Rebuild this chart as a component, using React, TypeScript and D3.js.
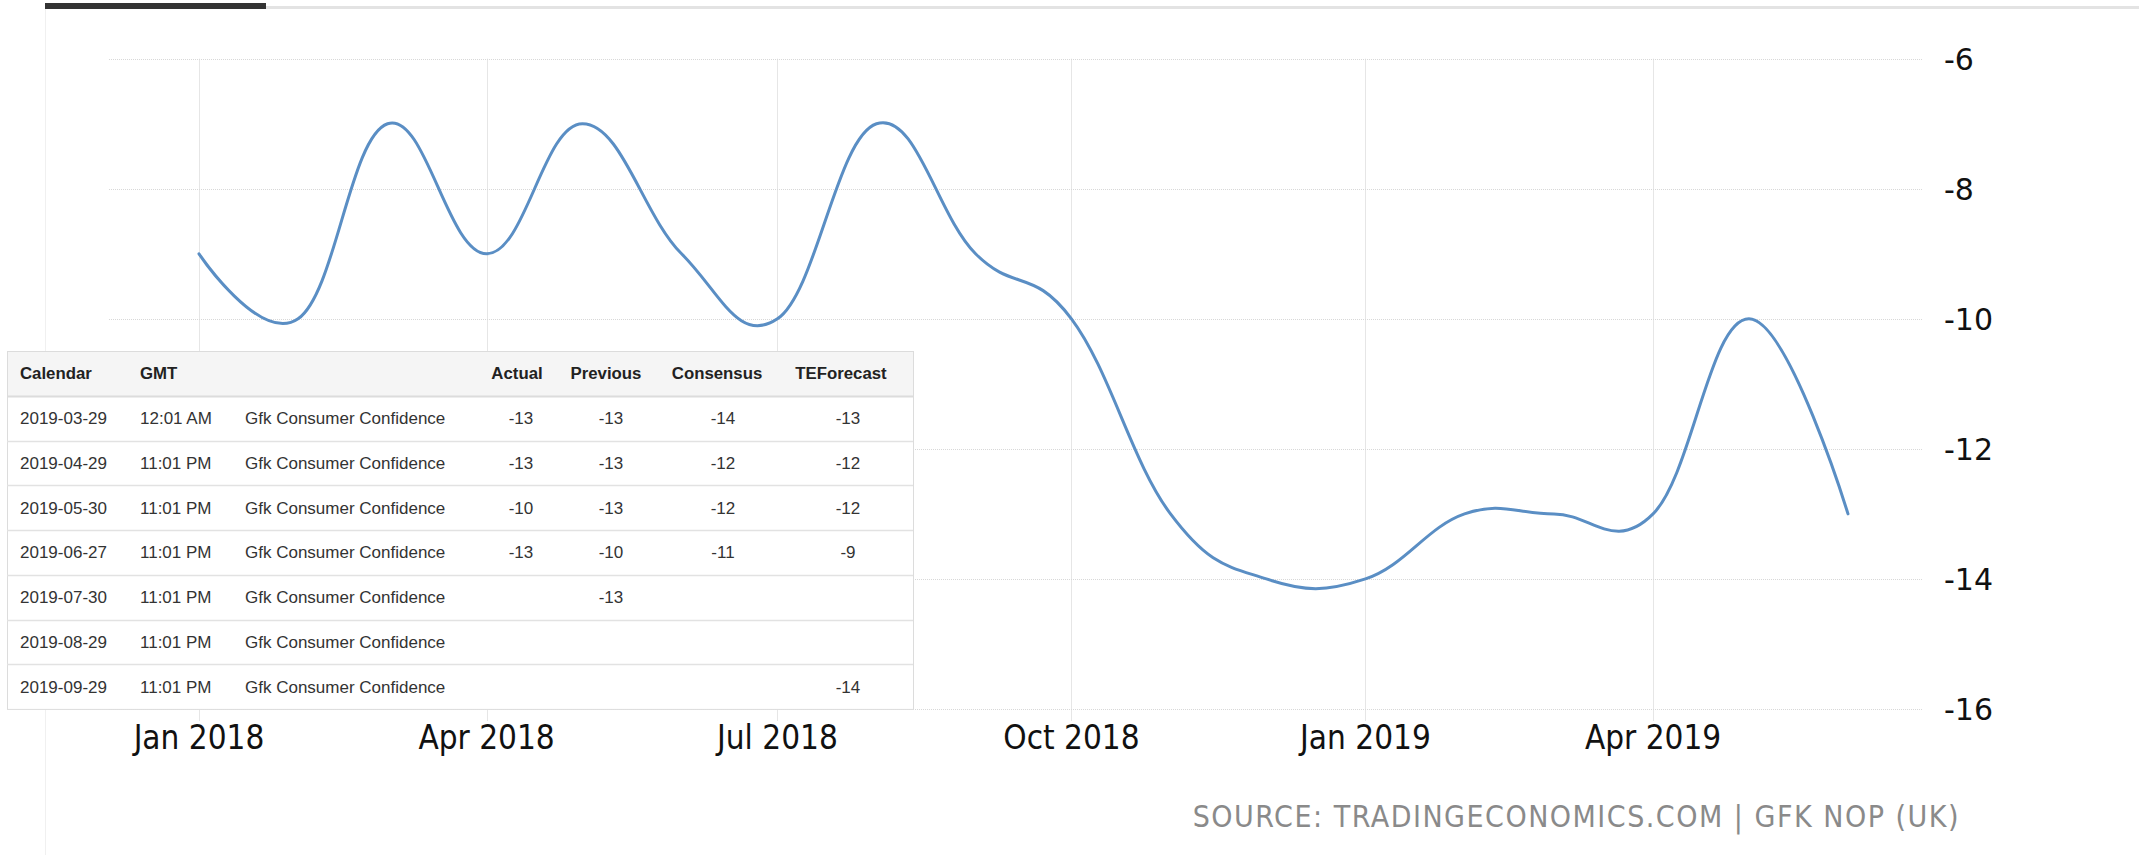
import React from "react";
import * as d3 from "d3";

const months = [
  "2018-01", "2018-02", "2018-03", "2018-04", "2018-05", "2018-06",
  "2018-07", "2018-08", "2018-09", "2018-10", "2018-11", "2018-12",
  "2019-01", "2019-02", "2019-03", "2019-04", "2019-05", "2019-06",
];
const values = [-9, -10, -7, -9, -7, -9, -10, -7, -9, -10, -13, -14, -14, -13, -13, -13, -10, -13];

const yTicks = [-6, -8, -10, -12, -14, -16];
const xTickMonths = ["2018-01", "2018-04", "2018-07", "2018-10", "2019-01", "2019-04"];

const tableHeaders = ["Calendar", "GMT", "", "Actual", "Previous", "Consensus", "TEForecast"];
const tableDates = ["2019-03-29", "2019-04-29", "2019-05-30", "2019-06-27", "2019-07-30", "2019-08-29", "2019-09-29"];
const tableTimes = ["12:01 AM", "11:01 PM", "11:01 PM", "11:01 PM", "11:01 PM", "11:01 PM", "11:01 PM"];
const tableEvent = "Gfk Consumer Confidence";
const tableActual = ["-13", "-13", "-10", "-13", "", "", ""];
const tablePrevious = ["-13", "-13", "-13", "-10", "-13", "", ""];
const tableConsensus = ["-14", "-12", "-12", "-11", "", "", ""];
const tableForecast = ["-13", "-12", "-12", "-9", "", "", "-14"];

const sourceText = "SOURCE: TRADINGECONOMICS.COM | GFK NOP (UK)";

const parse = d3.timeParse("%Y-%m");

export default function App() {
  const W = 2139, H = 855;
  const dates = months.map((m) => parse(m) as Date);
  const x = d3.scaleTime().domain([dates[0], dates[dates.length - 1]]).range([199, 1848]);
  const y = d3.scaleLinear().domain([-16, -6]).range([709, 58.7]);
  const line = d3
    .line<number>()
    .x((_, i) => x(dates[i]))
    .y((v) => y(v))
    .curve(d3.curveCardinal.tension(-0.2));
  const fmt = d3.timeFormat("%b %Y");
  const xTicks = xTickMonths.map((m) => parse(m) as Date);

  // table layout
  const tX0 = 7, tX1 = 913, tY0 = 351, headH = 45, rowH = 44.7;
  const colX = [20, 140, 245];
  const colC = [521, 611, 723, 848];
  const headC = [517, 606, 717, 841];
  const cols = [tableActual, tablePrevious, tableConsensus, tableForecast];
  const tY1 = tY0 + headH + rowH * tableDates.length;
  const tf = "'Liberation Sans', Arial, sans-serif";

  return (
    <div style={{ position: "absolute", left: 0, top: 0 }}>
      <svg width={W} height={H} style={{ display: "block", background: "#fff" }}>
        {/* top tabs */}
        <rect x={266} y={6} width={W - 266} height={3} fill="#e3e3e3" />
        <rect x={45} y={3} width={221} height={6} fill="#333" />
        <line x1={45.5} y1={9} x2={45.5} y2={H} stroke="#f0f0f0" strokeWidth={1} />

        {/* vertical grid */}
        {xTicks.map((d, i) => (
          <line key={"vg" + i} x1={Math.round(x(d)) + 0.5} x2={Math.round(x(d)) + 0.5} y1={y(-6)} y2={y(-16) + 12} stroke="#e6e6e6" strokeWidth={1} />
        ))}
        {/* horizontal grid */}
        {yTicks.map((t) => (
          <line key={"hg" + t} x1={109} x2={1923} y1={Math.round(y(t)) + 0.5} y2={Math.round(y(t)) + 0.5} stroke="#d8d8d8" strokeWidth={1} strokeDasharray="1,1" />
        ))}
        {/* y labels */}
        {yTicks.map((t) => (
          <text key={"yl" + t} x={1944} y={y(t)} dy="0.36em" fontFamily="'DejaVu Sans', Verdana, sans-serif" fontSize={30} fill="#111">
            {String(t)}
          </text>
        ))}
        {/* x labels */}
        {xTicks.map((d, i) => (
          <text key={"xl" + i} x={x(d)} y={749} textAnchor="middle" fontFamily="'DejaVu Sans Condensed', 'DejaVu Sans', sans-serif" fontStretch="condensed" fontSize={33} fill="#111">
            {fmt(d)}
          </text>
        ))}

        {/* series */}
        <path d={line(values) || ""} fill="none" stroke="#5a8ec4" strokeWidth={3} strokeLinejoin="round" strokeLinecap="round" />

        {/* table */}
        <rect x={tX0 + 0.5} y={tY0 + 0.5} width={tX1 - tX0} height={tY1 - tY0} fill="#fff" stroke="#dcdcdc" />
        <rect x={tX0 + 1} y={tY0 + 1} width={tX1 - tX0 - 1} height={headH - 1} fill="#f5f5f5" />
        <line x1={tX0} x2={tX1} y1={tY0 + headH + 0.5} y2={tY0 + headH + 0.5} stroke="#dcdcdc" strokeWidth={2} />
        {tableDates.map((_, i) =>
          i > 0 ? (
            <line key={"rl" + i} x1={tX0} x2={tX1} y1={Math.round(tY0 + headH + rowH * i) + 0.5} y2={Math.round(tY0 + headH + rowH * i) + 0.5} stroke="#e2e2e2" strokeWidth={1.5} />
          ) : null
        )}
        {tableHeaders.map((h, i) =>
          h ? (
            <text key={"th" + i} x={i < 3 ? colX[i] : headC[i - 3]} y={tY0 + headH / 2} dy="0.35em" textAnchor={i < 3 ? "start" : "middle"} fontFamily={tf} fontWeight="bold" fontSize={16.8} fill="#222">
              {h}
            </text>
          ) : null
        )}
        {tableDates.map((dt, i) => {
          const cy = tY0 + headH + rowH * i + rowH / 2;
          return (
            <g key={"row" + i} fontFamily={tf} fontSize={17} fill="#333">
              <text x={colX[0]} y={cy} dy="0.35em">{dt}</text>
              <text x={colX[1]} y={cy} dy="0.35em">{tableTimes[i]}</text>
              <text x={colX[2]} y={cy} dy="0.35em">{tableEvent}</text>
              {cols.map((c, j) =>
                c[i] ? (
                  <text key={j} x={colC[j]} y={cy} dy="0.35em" textAnchor="middle">{c[i]}</text>
                ) : null
              )}
            </g>
          );
        })}

        {/* source */}
        <text x={1960} y={827} textAnchor="end" fontFamily="'DejaVu Sans Condensed', 'DejaVu Sans', sans-serif" fontStretch="condensed" fontSize={30} fill="#8a8a8a" letterSpacing={1.5}>
          {sourceText}
        </text>
      </svg>
    </div>
  );
}
